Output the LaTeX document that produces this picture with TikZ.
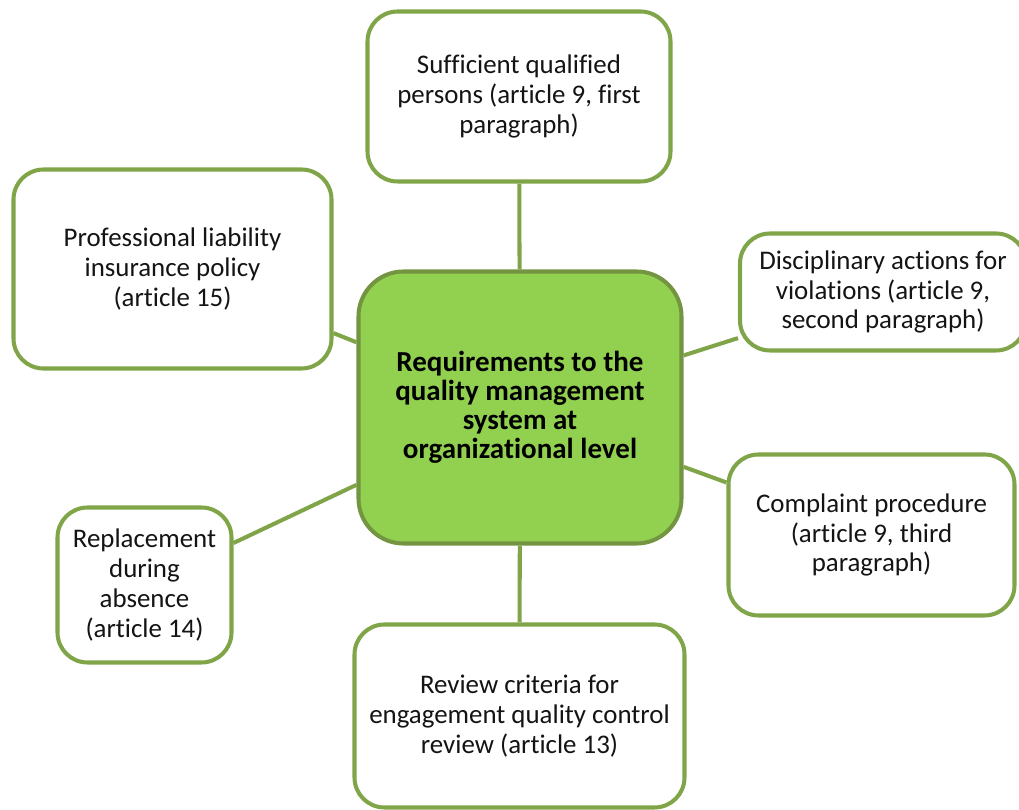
\documentclass[tikz,border=0pt]{standalone}
\usepackage{fontspec}
\setmainfont{Carlito}[Ligatures=NoCommon]
\usepackage{xcolor}
\usepackage{tikz}
\definecolor{olive}{RGB}{128,165,72}
\definecolor{leafgreen}{RGB}{146,208,80}
\definecolor{textgrey}{RGB}{20,20,20}

\begin{document}
\begin{tikzpicture}[
  box/.style={draw=olive, line width=2.3pt, rounded corners=0.6cm, fill=white,
    align=center, text=textgrey, inner sep=0pt,
    font=\fontsize{15.3}{16.9}\selectfont},
  hub/.style={box, fill=leafgreen, draw=olive!90!black, rounded corners=0.9cm,
    text=black, font=\fontsize{16.5}{16.5}\selectfont\bfseries},
  link/.style={draw=olive, line width=2.3pt}
]
\useasboundingbox (0,0) rectangle (20.38,16.2);
\node[hub, minimum width=6.46cm, minimum height=5.44cm] (req) at (10.40,8.05)
  {Requirements to the\\quality management\\system at\\organizational level};
\node[box, minimum width=6.06cm, minimum height=3.40cm] (staff) at (10.38,14.27)
  {Sufficient qualified\\persons (article 9, first\\paragraph)};
\node[box, minimum width=6.36cm, minimum height=3.98cm] (insur) at (3.45,10.82)
  {Professional liability\\insurance policy\\(article 15)};
\node[box, minimum width=5.72cm, minimum height=2.34cm] (discip) at (17.66,10.36)
  {Disciplinary actions for\\violations (article 9,\\second paragraph)};
\node[box, minimum width=5.72cm, minimum height=3.22cm] (compl) at (17.43,5.50)
  {Complaint procedure\\(article 9, third\\paragraph)};
\node[box, minimum width=6.60cm, minimum height=3.66cm] (review) at (10.39,1.88)
  {Review criteria for\\engagement quality control\\review (article 13)};
\node[box, minimum width=3.48cm, minimum height=3.10cm] (absence) at (2.89,4.50)
  {Replacement\\during\\absence\\(article 14)};
% spokes
\draw[link] (req) -- (staff);
\draw[link] (req) -- (insur);
\draw[link] (req) -- (discip);
\draw[link] (req) -- (compl);
\draw[link] (req) -- (review);
\draw[link] (req) -- (absence);
\end{tikzpicture}
\end{document}
